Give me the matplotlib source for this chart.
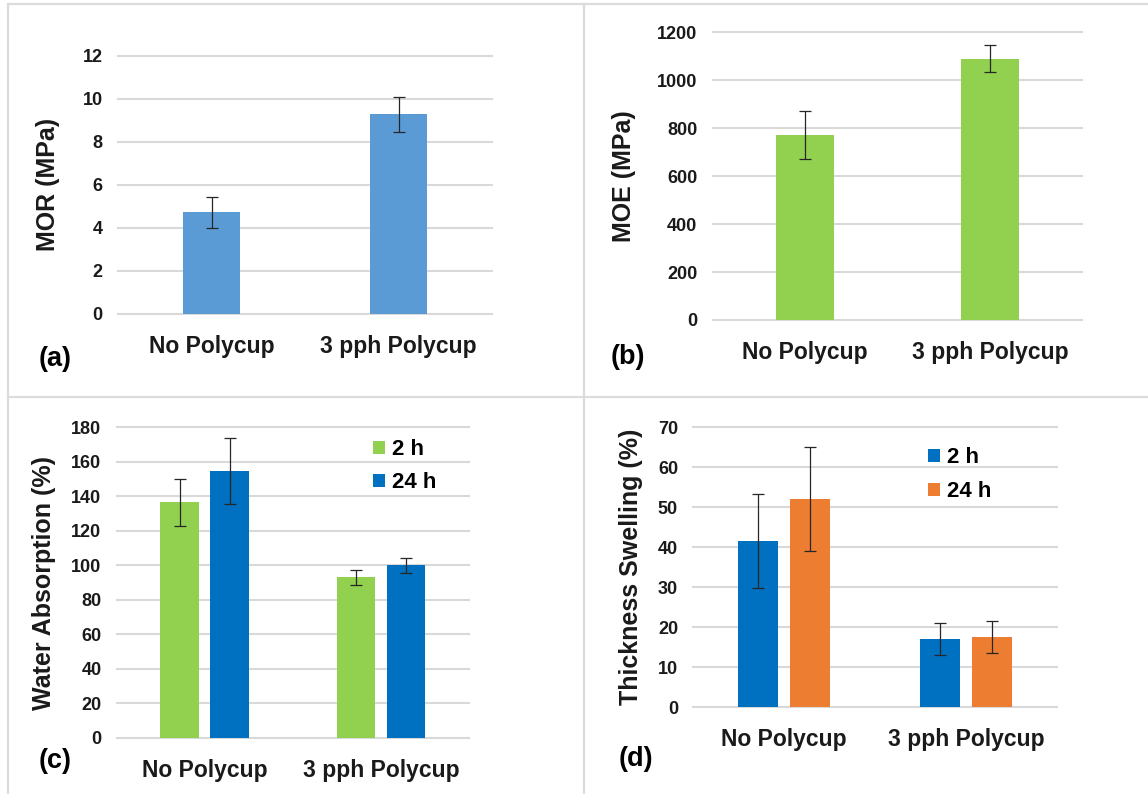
import numpy as np
import matplotlib
matplotlib.use("Agg")
import matplotlib.pyplot as plt
from matplotlib.lines import Line2D

plt.rcParams['font.family'] = ['Liberation Sans', 'DejaVu Sans']
plt.rcParams['font.weight'] = 'bold'

# --- Data ---
categories = ["No Polycup", "3 pph Polycup"]

mor = [4.73, 9.27]
mor_err = [0.72, 0.81]

moe = [770, 1090]
moe_err = [100, 56]

wa_2h = [136.5, 93.0]
wa_2h_err = [13.5, 4.2]
wa_24h = [154.7, 100.0]
wa_24h_err = [19.0, 4.4]

ts_2h = [41.6, 16.9]
ts_2h_err = [11.8, 4.0]
ts_24h = [52.0, 17.4]
ts_24h_err = [13.0, 4.0]

# --- Colours ---
LIGHT_BLUE = "#5B9BD5"
GREEN = "#92D050"
BLUE = "#0070C0"
ORANGE = "#ED7D31"
GRID = "#D9D9D9"
TXT = "#1a1a1a"

W, H = 1148, 794
fig = plt.figure(figsize=(W / 100, H / 100), dpi=100)


def add_ax(x0, y0, x1, y1):
    # pixel box (top-left origin) -> figure fraction
    return fig.add_axes([x0 / W, 1 - y1 / H, (x1 - x0) / W, (y1 - y0) / H])


def style(ax, ymax, step, ylabel, label_x_px, ax_x0, ax_x1):
    ax.set_ylim(0, ymax)
    ax.set_yticks(np.arange(0, ymax + step / 2, step))
    ax.set_xlim(-0.5, 1.5)
    ax.set_xticks([0, 1])
    ax.set_xticklabels(categories)
    for s in ax.spines.values():
        s.set_visible(False)
    ax.set_axisbelow(True)
    ax.yaxis.grid(True, color=GRID, linewidth=1.5)
    for gl in ax.get_ygridlines():
        gl.set_clip_on(False)
    ax.tick_params(axis="y", length=0, pad=11, labelsize=13, labelcolor=TXT)
    ax.tick_params(axis="x", length=0, pad=15, labelsize=16.5, labelcolor=TXT)
    for t in ax.get_xticklabels() + ax.get_yticklabels():
        t.set_fontweight("bold")
    ax.set_ylabel(ylabel, fontsize=18, fontweight="bold", color=TXT, va="center")
    ax.yaxis.set_label_coords((label_x_px - ax_x0) / (ax_x1 - ax_x0), 0.5)


def err_kw():
    return dict(ecolor="#262626", elinewidth=0.9, capsize=4, capthick=0.9)


x = np.arange(len(categories))

# --- (a) MOR ---
ax = add_ax(118, 55.7, 492, 314)
ax.bar(x, mor, width=0.31, color=LIGHT_BLUE, yerr=mor_err, error_kw=err_kw())
style(ax, 12, 2, "MOR (MPa)", 48, 118, 492)

# --- (b) MOE ---
ax = add_ax(712.7, 32.3, 1082.3, 320)
ax.bar(x, moe, width=0.31, color=GREEN, yerr=moe_err, error_kw=err_kw())
style(ax, 1200, 200, "MOE (MPa)", 624, 712.7, 1082.3)

# --- (c) Water absorption ---
w = 0.22
off = 0.142
ax = add_ax(116.7, 427.3, 469, 737.7)
ax.bar(x - off, wa_2h, width=w, color=GREEN, yerr=wa_2h_err, error_kw=err_kw(), label="2 h")
ax.bar(x + off, wa_24h, width=w, color=BLUE, yerr=wa_24h_err, error_kw=err_kw(), label="24 h")
style(ax, 180, 20, "Water Absorption (%)", 44, 116.7, 469)
ax.legend(loc="upper left", bbox_to_anchor=(0.727, 0.962), frameon=False,
          prop={"weight": "bold", "size": 16}, handlelength=0.55,
          handleheight=0.55, handletextpad=0.3, labelspacing=0.55,
          borderpad=0, borderaxespad=0)

# --- (d) Thickness swelling ---
ax = add_ax(693.3, 427.3, 1056.7, 707)
ax.bar(x - off, ts_2h, width=w, color=BLUE, yerr=ts_2h_err, error_kw=err_kw(), label="2 h")
ax.bar(x + off, ts_24h, width=w, color=ORANGE, yerr=ts_24h_err, error_kw=err_kw(), label="24 h")
style(ax, 70, 10, "Thickness Swelling (%)", 631, 693.3, 1056.7)
ax.legend(loc="upper left", bbox_to_anchor=(0.645, 0.929), frameon=False,
          prop={"weight": "bold", "size": 16}, handlelength=0.55,
          handleheight=0.55, handletextpad=0.3, labelspacing=0.6,
          borderpad=0, borderaxespad=0)

# --- panel letters ---
for lt, px, py in [("(a)", 55.5, 359), ("(b)", 628, 356.7), ("(c)", 55.5, 761.5), ("(d)", 636, 759)]:
    fig.text(px / W, 1 - py / H, lt, fontsize=19.5, fontweight="bold", color="black",
             ha="center", va="center")

# --- panel frame lines ---
for (xa, ya, xb, yb) in [(7.5, 4, 7.5, H), (7.5, 4, W, 4), (584, 4, 584, H), (7.5, 397, W, 397)]:
    fig.add_artist(Line2D([xa / W, xb / W], [1 - ya / H, 1 - yb / H], color="#DCDCDC",
                          linewidth=1.6, transform=fig.transFigure))

fig.savefig("out.png", dpi=100, facecolor="white")
